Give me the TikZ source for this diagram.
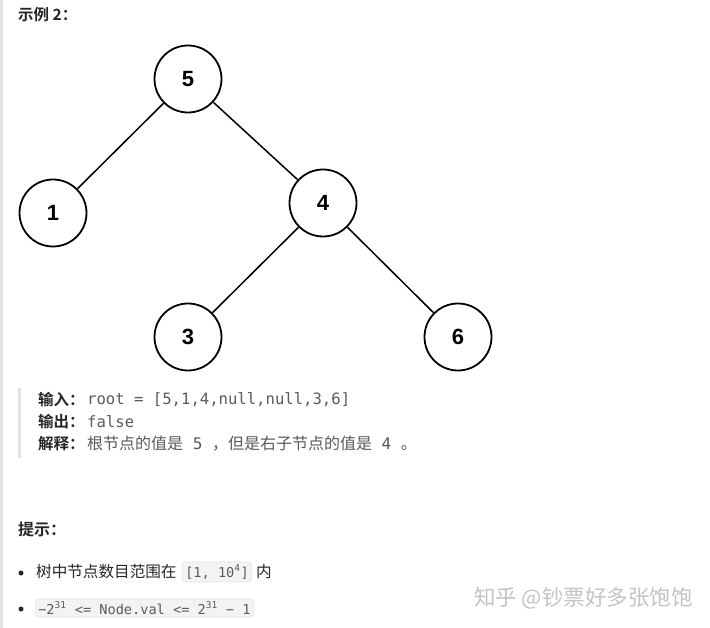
\documentclass[tikz,border=0pt]{standalone}
\usepackage{fontspec}
\setmainfont{Liberation Sans}
\setmonofont{DejaVu Sans Mono}
\newfontfamily\cjk{Noto Sans CJK SC}
\newfontfamily\cjkb{Noto Sans CJK SC Bold}
\definecolor{txt}{HTML}{262626}
\definecolor{mono}{HTML}{5A5A5A}
\definecolor{bar}{HTML}{E3E3E3}
\definecolor{codebg}{HTML}{F3F3F3}
\definecolor{codebd}{HTML}{E6E6E6}
\definecolor{wm}{HTML}{C4C4C4}
\begin{document}
\begin{tikzpicture}[x=1pt,y=-1pt,
  tnode/.style={circle,draw=black,line width=1.8pt,minimum size=67pt,inner sep=0pt,
    font=\fontsize{22}{22}\selectfont\bfseries,text=black},
  tedge/.style={draw=black,line width=1.5pt},
  lbl/.style={anchor=west,inner sep=0pt,text=txt},
  codebox/.style={anchor=west,fill=codebg,draw=codebd,line width=0.6pt,rounded corners=3pt,
    inner xsep=3pt,inner ysep=3pt,text=mono,font=\fontsize{13.6}{13}\ttfamily},
  bul/.style={circle,fill=txt,inner sep=0pt,minimum size=5pt}]
\useasboundingbox (0,0) rectangle (710,628);
\fill[white] (0,0) rectangle (710,628);
\fill[bar] (0,0) rectangle (2.5,628);
% title
\node[lbl,font=\fontsize{15.5}{15}\cjkb] (title) at (18,15) {示例 2：};
% tree
\node[tnode] (n5) at (188,79) {5};
\node[tnode] (n1) at (53,213) {1};
\node[tnode] (n4) at (323,203) {4};
\node[tnode] (n3) at (188,337) {3};
\node[tnode] (n6) at (458,337) {6};
\draw[tedge] (n5) -- (n1);
\draw[tedge] (n5) -- (n4);
\draw[tedge] (n4) -- (n3);
\draw[tedge] (n4) -- (n6);
% quote block
\fill[bar] (18,388) rectangle (20.5,458);
\node[lbl,font=\fontsize{15.5}{15}\cjkb] (inl) at (38,400) {输入：};
\node[lbl,font=\fontsize{15.6}{15}\ttfamily,text=mono] (inv) at (87,400) {root = [5,1,4,null,null,3,6]};
\node[lbl,font=\fontsize{15.5}{15}\cjkb] (outl) at (38,422) {输出：};
\node[lbl,font=\fontsize{15.6}{15}\ttfamily,text=mono] (outv) at (87,422) {false};
\node[lbl,font=\fontsize{15.5}{15}\cjkb] (expl) at (38,444) {解释：};
\node[lbl,font=\fontsize{16}{15}\cjk,text=mono] (expv) at (87,444) {根节点的值是{\ttfamily\ 5 }，但是右子节点的值是{\ttfamily\ 4 }。};
% hints
\node[lbl,font=\fontsize{16}{16}\cjkb] (hint) at (18,529) {提示：};
\node[bul] (b1) at (21,573) {};
\node[lbl,font=\fontsize{15.6}{16}\cjk] (h1) at (36,572) {树中节点数目范围在};
\node[codebox] (c1) at (182,572) {[1, 10\textsuperscript{4}]};
\node[lbl,font=\fontsize{15.6}{16}\cjk] (h1b) at (256,572) {内};
\node[bul] (b2) at (21,609) {};
\node[codebox] (c2) at (35,608) {−2\textsuperscript{31} <= Node.val <= 2\textsuperscript{31} − 1};
% watermark
\node[lbl,font=\fontsize{21.5}{22}\cjk,text=wm] (wmk) at (474,598) {知乎 @钞票好多张饱饱};
\end{tikzpicture}
\end{document}
